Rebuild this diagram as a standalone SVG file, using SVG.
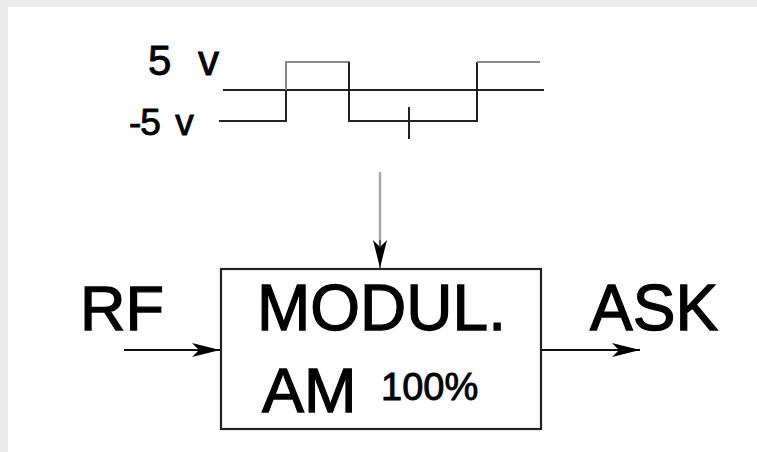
<svg xmlns="http://www.w3.org/2000/svg" width="757" height="452" viewBox="0 0 757 452">
<style>
text{font-family:"Liberation Sans",Arial,sans-serif;fill:#000;stroke:#000;stroke-width:1.3}
text.s{stroke-width:0.9}
.w{fill:none;stroke:#222;stroke-width:2}
.wl{fill:none;stroke:#888;stroke-width:2}
.c{fill:none;stroke:#111;stroke-width:2}
</style>
<defs>
<marker id="ah" viewBox="0 0 28 14" refX="28" refY="7" markerWidth="28" markerHeight="14" markerUnits="userSpaceOnUse" orient="auto">
<path d="M0,0 L28,7 L0,14 L7,7 z" fill="#000"/>
</marker>
</defs>
<rect x="0" y="0" width="757" height="452" fill="#ebebeb"/>
<rect x="8" y="7" width="749" height="445" fill="#fff"/>
<g id="waveform">
<line class="w" x1="223" y1="90" x2="544" y2="90"/>
<polyline class="w" points="219,121 286,121 286,90"/>
<polyline class="wl" points="286,90 286,62 349,62 349,90"/>
<polyline class="w" points="349,62 349,121 477,121 477,62"/>
<polyline class="wl" points="477,62 540,62"/>
<line class="w" x1="409" y1="107" x2="409" y2="139" stroke-width="1.5"/>
<text class="s" x="148" y="75" font-size="42" word-spacing="15">5 v</text>
<text class="s" x="129" y="135" font-size="37" word-spacing="6" letter-spacing="-1">-5 v</text>
</g>
<g id="modulator">
<rect x="221" y="269" width="320" height="160" fill="#fff" stroke="#222" stroke-width="2.2"/>
<text x="257" y="330" font-size="64">MODUL.</text>
<text x="262" y="412" font-size="63">AM</text>
<text class="s" x="381" y="400" font-size="38">100%</text>
</g>
<g id="labels">
<text x="80" y="330" font-size="63">RF</text>
<text x="590" y="330" font-size="64">ASK</text>
</g>
<g id="connectors">
<line x1="380" y1="172" x2="380" y2="246" stroke="#aaa" stroke-width="2.5"/>
<path d="M380,240 L380,268" stroke="#000" stroke-width="1" marker-end="url(#ah)"/>
<line class="c" x1="124" y1="350" x2="220" y2="350" marker-end="url(#ah)"/>
<line class="c" x1="541" y1="350" x2="640" y2="350" marker-end="url(#ah)"/>
</g>
</svg>
